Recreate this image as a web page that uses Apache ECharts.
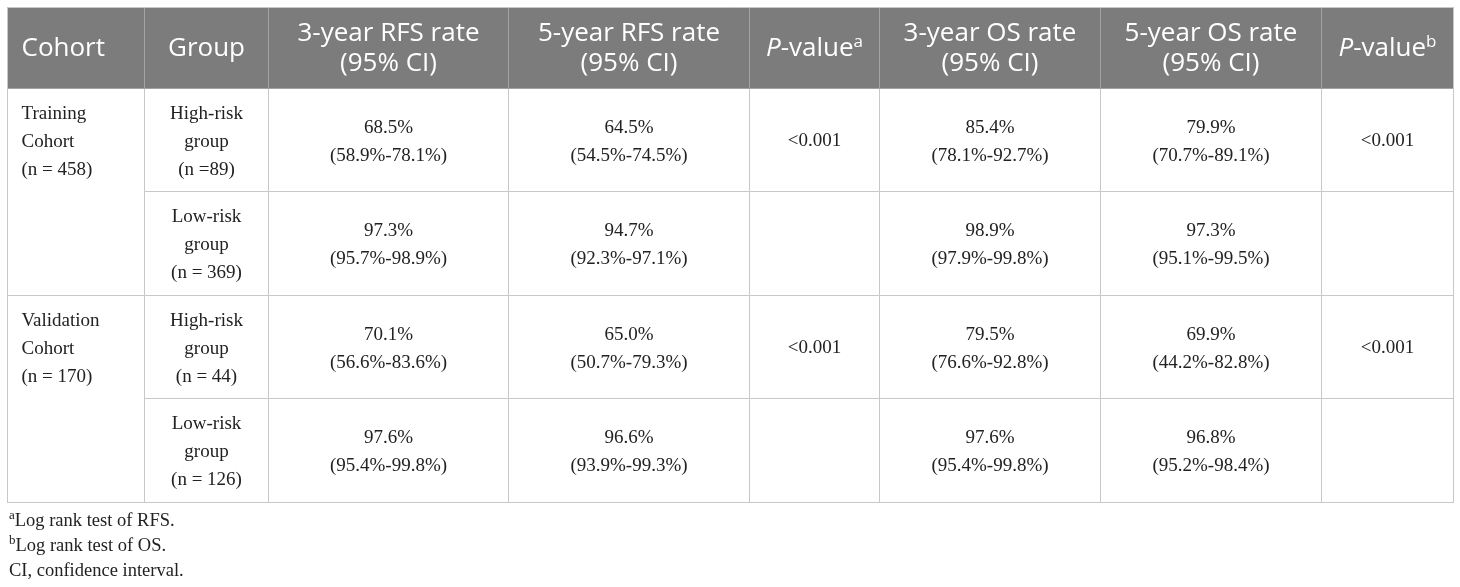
<!DOCTYPE html>
<html><head><meta charset="utf-8">
<script src="https://cdn.jsdelivr.net/npm/echarts@6/dist/echarts.min.js"></script>
<style>html,body{margin:0;padding:0;background:#fff}#c{width:1460px;height:587px}</style>
</head><body><div id="c"></div>
<script>
// ---- data ----
const headers = ['{l|Cohort}', 'Group', '3-year RFS rate\n(95% CI)', '5-year RFS rate\n(95% CI)', '{i|P}-value{sup|a}', '3-year OS rate\n(95% CI)', '5-year OS rate\n(95% CI)', '{i|P}-value{sup|b}'];
const cohorts = [['Training', 'Cohort', '(n = 458)'], ['Validation', 'Cohort', '(n = 170)']];
const groups = ['High-risk\ngroup\n(n =89)', 'Low-risk\ngroup\n(n = 369)', 'High-risk\ngroup\n(n = 44)', 'Low-risk\ngroup\n(n = 126)'];
const rfs3 = [[68.5, 58.9, 78.1], [97.3, 95.7, 98.9], [70.1, 56.6, 83.6], [97.6, 95.4, 99.8]];
const rfs5 = [[64.5, 54.5, 74.5], [94.7, 92.3, 97.1], [65.0, 50.7, 79.3], [96.6, 93.9, 99.3]];
const os3 = [[85.4, 78.1, 92.7], [98.9, 97.9, 99.8], [79.5, 76.6, 92.8], [97.6, 95.4, 99.8]];
const os5 = [[79.9, 70.7, 89.1], [97.3, 95.1, 99.5], [69.9, 44.2, 82.8], [96.8, 95.2, 98.4]];
const pRfs = ['<0.001', '', '<0.001', ''];
const pOs = ['<0.001', '', '<0.001', ''];
const footnotes = ['{s|a}Log rank test of RFS.', '{s|b}Log rank test of OS.', 'CI, confidence interval.'];

// ---- layout ----
const colWidths = [137, 124, 240, 241, 130, 221, 221, 132];
const fmt = v => v[0].toFixed(1) + '%\n(' + v[1].toFixed(1) + '%-' + v[2].toFixed(1) + '%)';
const padFor = s => [s.indexOf('\n') < 0 ? 26 : 11, 0, 0, 0];

const cells = [];
cohorts.forEach((c, k) => {
  cells.push({
    coord: [0, [k * 2, k * 2 + 1]], mergeCells: true,
    value: c.map(t => '{l|' + t + '}').join('\n'),
    label: { padding: [12, 0, 0, 14] }
  });
});
groups.forEach((g, r) => {
  cells.push({ coord: [1, r], value: g, label: { padding: [12, 0, 0, 0] } });
  cells.push({ coord: [2, r], value: fmt(rfs3[r]) });
  cells.push({ coord: [3, r], value: fmt(rfs5[r]) });
  cells.push({ coord: [4, r], value: pRfs[r], label: { padding: [39, 0, 0, 0] } });
  cells.push({ coord: [5, r], value: fmt(os3[r]) });
  cells.push({ coord: [6, r], value: fmt(os5[r]) });
  cells.push({ coord: [7, r], value: pOs[r], label: { padding: [39, 0, 0, 0] } });
});

const serif = 'Liberation Serif';
const sans = 'Open Sans';

const option = {
  backgroundColor: '#fff',
  title: {
    left: 4, top: 504,
    text: footnotes.join('\n'),
    textStyle: {
      fontFamily: serif, fontSize: 18.5, fontWeight: 'normal', color: '#222', lineHeight: 25,
      rich: { s: { fontFamily: serif, fontSize: 13, color: '#222', verticalAlign: 'top', lineHeight: 18 } }
    }
  },
  matrix: {
    left: 7, top: 7, width: 1446, height: 495,
    backgroundStyle: { color: '#fff', borderColor: '#c8c8c8', borderWidth: 1 },
    x: {
      data: headers.map((h, i) => ({
        value: h, size: colWidths[i],
        label: { padding: i === 0 ? [26, 0, 0, 14] : padFor(h) }
      })),
      levelSize: 81,
      itemStyle: { color: '#7b7c7b', borderColor: '#a3a3a3', borderWidth: 1 },
      dividerLineStyle: { color: '#a3a3a3', width: 1 },
      label: {
        color: '#fff', fontFamily: sans, fontSize: 26, lineHeight: 30, padding: [11, 0, 0, 0],
        rich: {
          l: { width: 108, align: 'left', fontFamily: sans, fontSize: 26, color: '#fff', lineHeight: 30 },
          i: { fontStyle: 'italic', fontFamily: sans, fontSize: 26, color: '#fff', lineHeight: 30 },
          sup: { fontFamily: sans, fontSize: 17, color: '#fff', verticalAlign: 'top', lineHeight: 20 }
        }
      }
    },
    y: {
      show: false,
      data: ['r1', 'r2', 'r3', 'r4']
    },
    body: {
      data: cells,
      itemStyle: { color: '#fff', borderColor: '#c8c8c8', borderWidth: 1 },
      label: {
        color: '#222', fontFamily: serif, fontSize: 19, lineHeight: 28, padding: [26, 0, 0, 0],
        rich: {
          l: { width: 108, align: 'left', fontFamily: serif, fontSize: 19, color: '#222', lineHeight: 28 }
        }
      }
    }
  }
};
const chart = echarts.init(document.getElementById('c'), null, { renderer: 'canvas' });
chart.setOption(option);
</script>
</body></html>
